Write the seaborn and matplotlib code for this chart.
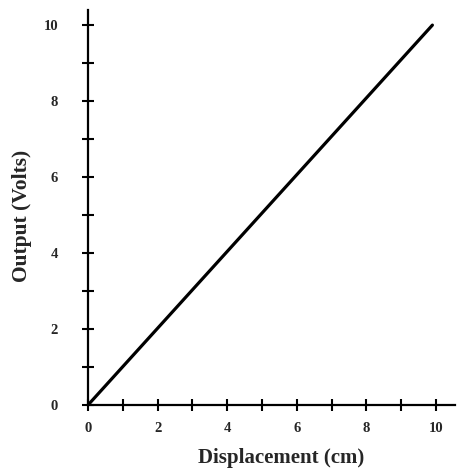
import matplotlib
matplotlib.use("Agg")
import matplotlib.pyplot as plt
import seaborn as sns

# transducer response: displacement (cm) vs output (volts)
displacement = [0, 9.9]
output = [0, 10]
tick_values = list(range(0, 11))
tick_labels = [str(v) if v % 2 == 0 else "" for v in tick_values]

sns.set_style("ticks")
plt.rcParams["font.family"] = ["Liberation Serif", "DejaVu Serif"]
plt.rcParams["font.weight"] = "bold"

fig = plt.figure(figsize=(4.61, 4.72), dpi=100)
ax = fig.add_axes([0.191, 0.142, 0.796, 0.837])

sns.lineplot(x=displacement, y=output, ax=ax, color="black", linewidth=2.3)

ax.set_xlim(0, 10.55)
ax.set_ylim(0, 10.4)
ax.set_xticks(tick_values)
ax.set_xticklabels(tick_labels)
ax.set_yticks(tick_values)
ax.set_yticklabels(tick_labels)
ax.tick_params(direction="inout", length=8, width=1.5, labelsize=10.5, color="black")
ax.tick_params(axis="x", pad=8)
ax.tick_params(axis="y", pad=17.5)

for side in ("top", "right"):
    ax.spines[side].set_visible(False)
for side in ("left", "bottom"):
    ax.spines[side].set_linewidth(1.6)
    ax.spines[side].set_color("black")

ax.set_xlabel("Displacement (cm)", fontsize=15, fontweight="bold")
ax.set_ylabel("Output (Volts)", fontsize=15.5, fontweight="bold")
# place axis titles where they sit in the original
ax.xaxis.set_label_coords(281 / 461, 1 - 458 / 472, transform=fig.transFigure)
ax.yaxis.set_label_coords(22 / 461, 1 - 216 / 472, transform=fig.transFigure)
ax.xaxis.label.set_va("center")
ax.yaxis.label.set_va("center")

fig.savefig("out.png", dpi=100)
